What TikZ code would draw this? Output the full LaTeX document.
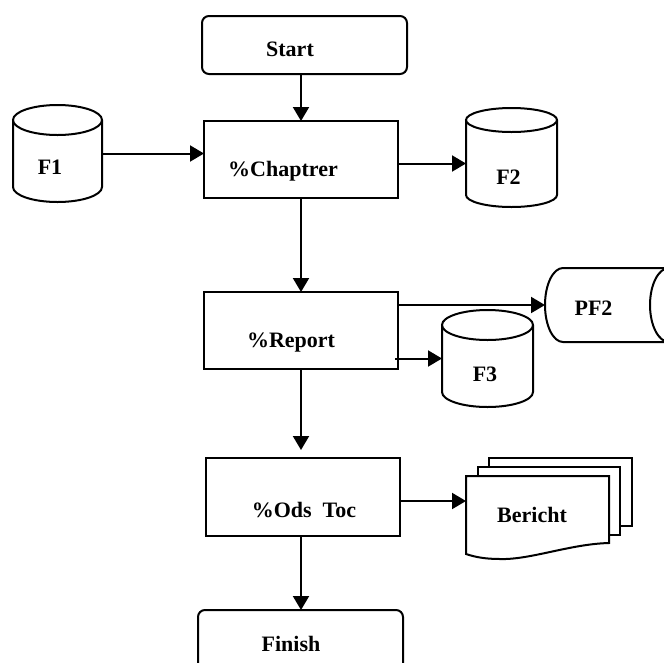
\documentclass[tikz,border=0pt]{standalone}
\usepackage{fontspec}
\setmainfont{Liberation Serif}
\usetikzlibrary{arrows.meta,calc}
\tikzset{
  ln/.style={line width=2pt, line join=miter},
  arr/.style={ln, -{Triangle[length=14pt,width=16pt]}},
  procbox/.style={ln, draw, rectangle, inner sep=0pt, outer sep=0pt, minimum width=194pt, minimum height=77pt},
  termbox/.style={ln, draw, rectangle, rounded corners=7pt, inner sep=0pt, outer sep=0pt, minimum width=205pt},
  area/.style={rectangle, draw=none, inner sep=0pt, outer sep=0pt},
  txt/.style={anchor=base, inner sep=0pt, font=\fontsize{22}{26}\selectfont\bfseries},
}
\begin{document}
\begin{tikzpicture}[x=1pt,y=-1pt]
\useasboundingbox (0,0) rectangle (664,662);
\clip (0,0) rectangle (664,662);
\fill[white] (0,0) rectangle (664,662);

% process boxes
\node[termbox, minimum height=58pt] (start) at (304.5,45) {};
\node[procbox] (chap) at (301,159.5) {};
\node[procbox] (rep) at (301,330.5) {};
\node[procbox, minimum height=78pt] (ods) at (303,497) {};
\node[termbox, minimum height=70pt] (fin) at (300.5,645) {};

\node[txt] (startT) at (290,56) {Start};
\node[txt] (chapT) at (283,176) {\%Chaptrer};
\node[txt] (repT) at (291,347) {\%Report};
\node[txt] (odsT) at (304,517) {\%Ods\ \ Toc};
\node[txt] (finT) at (291,651) {Finish};

% cylinders
\node[area, minimum width=89pt, minimum height=97pt] (f1) at (57.5,153.5) {};
\draw[ln] ([yshift=-15pt]f1.north west) -- ([yshift=15pt]f1.south west)
  arc[start angle=180,end angle=360,x radius=44.5pt,y radius=15pt]
  -- ([yshift=-15pt]f1.north east)
  arc[start angle=0,end angle=360,x radius=44.5pt,y radius=15pt];
\node[txt] (f1T) at (50,174) {F1};

\node[area, minimum width=91pt, minimum height=99pt] (f2) at (511.5,157.5) {};
\draw[ln] ([yshift=-12pt]f2.north west) -- ([yshift=12pt]f2.south west)
  arc[start angle=180,end angle=360,x radius=45.5pt,y radius=12pt]
  -- ([yshift=-12pt]f2.north east)
  arc[start angle=0,end angle=360,x radius=45.5pt,y radius=12pt];
\node[txt] (f2T) at (508.5,184) {F2};

\node[area, minimum width=91pt, minimum height=97pt] (f3) at (487.5,358.5) {};
\draw[ln] ([yshift=-15pt]f3.north west) -- ([yshift=15pt]f3.south west)
  arc[start angle=180,end angle=360,x radius=45.5pt,y radius=15pt]
  -- ([yshift=-15pt]f3.north east)
  arc[start angle=0,end angle=360,x radius=45.5pt,y radius=15pt];
\node[txt] (f3T) at (485,381) {F3};

% direct access storage PF2
\node[area, minimum width=143pt, minimum height=74pt] (pf2) at (616.5,305) {};
\draw[ln] ([xshift=-19pt]pf2.north east) -- ([xshift=18pt]pf2.north west)
  arc[start angle=90,end angle=270,x radius=18pt,y radius=37pt]
  -- ([xshift=-19pt]pf2.south east);
\draw[ln] (pf2.east) arc[start angle=0,end angle=360,x radius=19pt,y radius=37pt];
\node[txt] (pf2T) at (593.5,315) {PF2};

% multi-document Bericht
\node[area, minimum width=143pt, minimum height=78pt] (ber) at (537.5,515) {};
\draw[ln, fill=white] (489,458) rectangle (632,526);
\draw[ln, fill=white] (478,467) rectangle (620,535);
\draw[ln, fill=white] (466,554) -- (466,476) -- (609,476) -- (609,543)
  .. controls (570,544) and (530,560) .. (500,559)
  .. controls (485,559) and (475,557) .. (466,554) -- cycle;
\node[txt] (berT) at (532,522) {Bericht};

% connectors
\draw[arr] (start.south -| chap.north) -- (chap.north);
\draw[arr] (f1.east) -- (f1.east -| chap.west);
\draw[arr] ($(chap.east)+(0,4)$) -- ($(chap.east -| f2.west)+(0,4)$);
\draw[arr] (chap.south) -- (rep.north);
\draw[arr] (rep.east |- pf2.west) -- (pf2.west);
\draw[arr] ($(rep.east |- f3.west)+(-3,0)$) -- (f3.west);
\draw[arr] (rep.south) -- ($(rep.south |- ods.north)+(0,-8)$);
\draw[arr] ($(ods.east)+(0,4)$) -- ($(ods.east -| ber.west)+(0,4)$);
\draw[arr] (ods.south -| rep.south) -- (fin.north -| rep.south);
\end{tikzpicture}
\end{document}
